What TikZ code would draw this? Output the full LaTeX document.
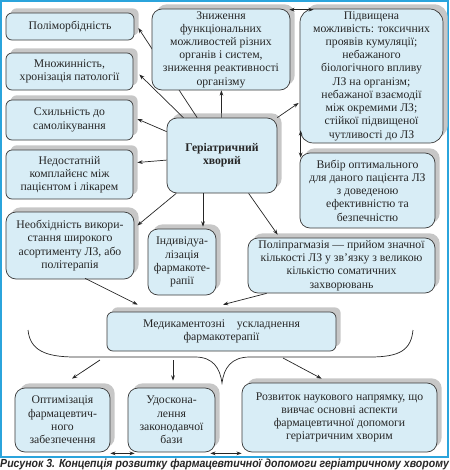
\documentclass[tikz,border=0pt]{standalone}
\usepackage{fontspec}
\setmainfont{Liberation Serif}
\newfontfamily\boxfont{Liberation Serif}
\newfontfamily\capfont{Liberation Sans}
\usetikzlibrary{arrows.meta,calc,shadows}
\definecolor{boxfill}{HTML}{D8EDF6}
\definecolor{boxline}{HTML}{3A3A3A}
\definecolor{frameblue}{HTML}{2BA4DC}
\definecolor{inkdark}{HTML}{262626}
\newlength\pxu
\setlength\pxu{0.03cm}

\begin{document}
\begin{tikzpicture}[x=\pxu, y=-\pxu,
    box/.style={draw=boxline, line width=0.6pt, fill=boxfill, rounded corners=3mm,
      align=center, inner sep=1pt, text=inkdark,
      font=\boxfont\fontsize{10}{11.3}\selectfont,
      drop shadow={shadow xshift=1.4mm, shadow yshift=1.4mm, fill=black!22, opacity=1}},
    sidebox/.style={box, rounded corners=1.8mm},
    arr/.style={-{Stealth[length=4.5pt,width=3.2pt]}, line width=0.6pt, draw=inkdark},
    dbl/.style={{Stealth[length=4.5pt,width=3.2pt]}-{Stealth[length=4.5pt,width=3.2pt]}, line width=0.6pt, draw=inkdark}]
    \useasboundingbox (0,0) rectangle (450,470);
    \draw[frameblue, line width=1.5pt] (1,1) rectangle (448,457);

    % left column
    \node[sidebox, minimum width=128\pxu, minimum height=27\pxu] (morbid) at (70,26.5) {Поліморбідність};
    \node[sidebox, minimum width=127\pxu, minimum height=37\pxu] (plural) at (69.5,71.5) {Множинність,\\ хронізація патології};
    \node[sidebox, minimum width=127\pxu, minimum height=40\pxu] (selfmed) at (69.5,120) {Схильність до\\ самолікування};
    \node[sidebox, minimum width=127\pxu, minimum height=49\pxu] (comply) at (69.5,174.5) {Недостатній\\ комплайєнс між\\ пацієнтом і лікарем};
    \node[box, minimum width=128\pxu, minimum height=67\pxu] (assort) at (70,245.5) {Необхідність викори-\\стання широкого\\ асортименту ЛЗ, або\\ політерапія};

    % centre and right
    \node[box, font=\boxfont\fontsize{10}{11.3}\selectfont\bfseries, minimum width=110\pxu, minimum height=75\pxu] (ger) at (222,155.5) {Геріатричний\\ хворий};
    \node[box, minimum width=68\pxu, minimum height=66\pxu] (indiv) at (182,262) {Індивідуа-\\лізація\\ фармакоте-\\рапії};
    \node[box, rounded corners=4mm, minimum width=143\pxu, minimum height=134\pxu] (risk) at (371.5,76) {Підвищена\\ можливість: токсичних\\ проявів кумуляції;\\ небажаного\\ біологічного впливу\\ ЛЗ на організм;\\ небажаної взаємодії\\ між окремими ЛЗ;\\ стійкої підвищеної\\ чутливості до ЛЗ};
    \node[box, minimum width=135\pxu, minimum height=75\pxu] (choice) at (367.5,190.5) {Вибір оптимального\\ для даного пацієнта ЛЗ\\ з доведеною\\ ефективністю та\\ безпечністю};
    \node[box, minimum width=187\pxu, minimum height=55\pxu] (polyph) at (341.5,265.5) {Поліпрагмазія — прийом значної\\ кількості ЛЗ у зв’язку з великою\\ кількістю соматичних\\ захворювань};

    % these two run behind the box placed next
    \draw[arr] (ger) -- ($(morbid.east)+(4,1.5)$);
    \draw[arr] (ger) -- ($(plural.east)+(6,3)$);
    \node[box, minimum width=138\pxu, minimum height=81\pxu] (decline) at (221,49.5) {Зниження\\ функціональних\\ можливостей різних\\ органів і систем,\\ зниження реактивності\\ організму};

    % lower part
    \node[sidebox, minimum width=229\pxu, minimum height=39\pxu] (drugcomp) at (221.5,331.5) {Медикаментозні\quad ускладнення\\ фармакотерапії};
    \node[box, minimum width=95\pxu, minimum height=64\pxu] (optim) at (62.5,420) {Оптимізація\\ фармацевтич-\\ного\\ забезпечення};
    \node[box, minimum width=87\pxu, minimum height=64\pxu] (legal) at (171.5,420) {Удоскона-\\лення\\ законодавчої\\ бази};
    \node[box, minimum width=195\pxu, minimum height=69\pxu] (science) at (339.5,417.5) {Розвиток наукового напрямку, що\\ вивчає основні аспекти\\ фармацевтичної допомоги\\ геріатричним хворим};

    % connectors from the patient box
    \draw[arr] (ger) -- ($(selfmed.east)+(4,-1)$);
    \draw[arr] (ger) -- ($(comply.east)+(4,-12)$);
    \draw[arr] (ger) -- ($(assort.east)+(3,-20)$);
    \draw[arr] (ger) -- (decline);
    \draw[arr] (ger) -- ($(risk.west)+(-1,27)$);
    \draw[arr] (ger) -- ($(polyph.north west)+(30,-3)$);
    \coordinate (indivtip) at ($(indiv.north)+(21,-2)$);
    \draw[arr] (ger.south -| indivtip) -- (indivtip);
    \draw[dbl] ($(decline.north east)+(-1,1)$) -- ($(risk.north west)+(14,1)$);
    \draw[dbl] ($(risk.south west)+(1,-13)$) -- ($(choice.north west)+(1,5)$);

    % into the complications box
    \draw[arr] ($(assort.south)+(15,-1)$) -- ($(drugcomp.north west)+(31,-7)$);
    \draw[arr] ($(polyph.south west)+(19,0)$) -- ($(drugcomp.north)+(1.5,-7)$);

    % brace and the three outcomes
    \draw[line width=0.6pt, inkdark] (28,330) .. controls (30,350) and (45,357) .. (75,357)
        -- (195,357) .. controls (213,357) and (220,368) .. (222,383)
        .. controls (224,368) and (231,357) .. (250,357)
        -- (370,357) .. controls (400,357) and (411,350) .. (413,330);
    \coordinate (outl) at (100,360);
    \coordinate (outm) at (173,360);
    \coordinate (outr) at (283,358);
    \draw[arr] (outl) -- ($(optim.north)+(9.5,-9)$);
    \draw[arr] (outm) -- ($(legal.north)+(1.5,-7)$);
    \draw[arr] (outr) -- ($(science.north west)+(80,-4)$);
    \draw[dbl] ($(optim.south east)+(0,1)$) -- ($(legal.south west)+(7,1)$);
    \draw[dbl] ($(legal.south east)+(-5,1)$) -- ($(science.south west)+(0,1)$);

    \node[anchor=west, inner sep=0pt, text=inkdark, font=\capfont\bfseries\itshape\fontsize{10}{12}\selectfont] (caption) at (0,464)
        {\scalebox{0.9}[1]{Рисунок 3. Концепція розвитку фармацевтичної допомоги геріатричному хворому}};
\end{tikzpicture}
\end{document}
